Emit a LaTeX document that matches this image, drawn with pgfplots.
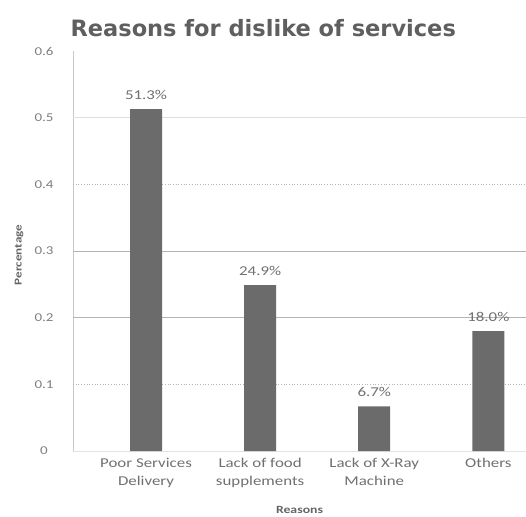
\documentclass[border=0pt]{standalone}
\usepackage{pgfplots}
\pgfplotsset{compat=1.18}
\usepackage{fontspec}
\setmainfont{Carlito}
\newfontfamily\wide[FakeStretch=1.25]{Carlito}
\newfontfamily\titlefont{DejaVu Sans}
\definecolor{bargray}{HTML}{6B6B6B}
\definecolor{txtgray}{HTML}{707070}
\definecolor{gridgray}{HTML}{B4B4B4}
\definecolor{gridlight}{HTML}{C8C8C8}
\begin{document}
\begin{tikzpicture}[x=1pt,y=1pt]
\useasboundingbox (-73,-65) rectangle (453,451);
\begin{axis}[
  scale only axis, width=453pt, height=400pt,
  at={(0,0)}, anchor=south west,
  ymin=0, ymax=0.6, xmin=-0.64, xmax=3.33,
  ytick={0,0.1,0.2,0.3,0.4,0.5,0.6},
  yticklabels={0,0.1,0.2,0.3,0.4,0.5,0.6},
  xtick=data,
  xticklabels={Poor Services\\Delivery, Lack of food\\supplements, Lack of X-Ray\\Machine, Others},
  x tick label style={align=center, font=\wide\fontsize{13.5}{18}\selectfont, text=txtgray, anchor=north, yshift=-4pt},
  y tick label style={font=\wide\fontsize{12}{14}\selectfont, text=txtgray!90, anchor=center, xshift=-29pt},
  /pgf/number format/assume math mode=true,
  axis line style={draw=none},
  axis x line*=bottom, axis y line*=left,
  major tick length=0pt,
  ylabel={Percentage}, ylabel style={font=\wide\bfseries\fontsize{10.5}{12}\selectfont, text=txtgray!90!black, at={(rel axis cs:0,0.49)}, anchor=center, yshift=54pt},
  xlabel={Reasons}, xlabel style={font=\wide\bfseries\fontsize{11}{12}\selectfont, text=txtgray!90!black, at={(rel axis cs:0.5,0)}, anchor=center, yshift=-59pt},
  title={\titlefont\bfseries Reasons for dislike of services},
  title style={font=\fontsize{22.5}{26}\selectfont, text=txtgray!85!black, at={(rel axis cs:0.42,1)}, anchor=center, yshift=17pt},
  nodes near coords={\pgfmathprintnumber[fixed, fixed zerofill, precision=1]{\myval}\%},
  visualization depends on={100*y \as \myval},
  nodes near coords style={font=\wide\fontsize{13.5}{15}\selectfont, text=txtgray, anchor=south, yshift=6pt},
  clip=false,
]
\draw[gridlight, line width=0.6pt] (axis cs:-0.64,0) -- (axis cs:-0.64,0.6);
\draw[gridgray, line width=0.7pt] (axis cs:-0.64,0.2) -- (axis cs:3.33,0.2);
\draw[gridgray, line width=0.7pt] (axis cs:-0.64,0.3) -- (axis cs:3.33,0.3);
\draw[gridgray, line width=0.7pt, dotted] (axis cs:-0.64,0.1) -- (axis cs:3.33,0.1);
\draw[gridgray, line width=0.7pt, dotted] (axis cs:-0.64,0.4) -- (axis cs:3.33,0.4);
\draw[gridlight!60, line width=0.6pt] (axis cs:-0.64,0.5) -- (axis cs:3.33,0.5);
\draw[gridlight!50, line width=0.6pt] (axis cs:-0.64,0) -- (axis cs:3.33,0);
\addplot[ybar, bar width=32pt, fill=bargray, draw=none] coordinates {(0,0.513) (1,0.249) (2,0.067) (3,0.180)};
\end{axis}
\end{tikzpicture}
\end{document}
